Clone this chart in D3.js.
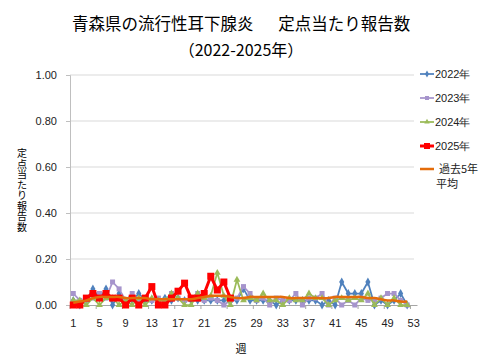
<!DOCTYPE html>
<html><head><meta charset="utf-8">
<script src="https://cdn.jsdelivr.net/npm/d3@7"></script>
<style>body{margin:0;background:#fff}svg{display:block}</style>
</head><body><svg id="c" width="480" height="360"></svg>
<script>
const weeks = d3.range(1, 54);
const tickWeeks = [1,5,9,13,17,21,25,29,33,37,41,45,49,53];
const yTicks = [0, 0.2, 0.4, 0.6, 0.8, 1.0];
const v2022 = [0.02,0,0.02,0.07,0.03,0.07,0,0.05,0.01,0.02,0.05,0.02,0.02,0.02,0.03,0.02,0.03,0.02,0.02,0.02,0.02,0.02,0.02,0.02,0.02,0.02,0.07,0.02,0.02,0.02,0.02,0,0.02,0.02,0.02,0.02,0.02,0.02,0,0.02,0,0.10,0.05,0.05,0.05,0.10,0,0.02,0,0.02,0.05,0];
const v2023 = [0.05,0.02,0.02,0.03,0.05,0.03,0.10,0.07,0.02,0.05,0.02,0.03,0.02,0.03,0.02,0.05,0.03,0.02,0.03,0.05,0.02,0.03,0.02,0,0.02,0.03,0.08,0.05,0.02,0.03,0,0.03,0.02,0.02,0.05,0,0.03,0.03,0.05,0,0.03,0,0.02,0,0.03,0.02,0.02,0.03,0.05,0.05,0.02,0];
const v2024 = [0.02,0.02,0,0.03,0,0.03,0.03,0,0.02,0,0.03,0,0.03,0.02,0.02,0.05,0.03,0,0,0.05,0.03,0.04,0.14,0.04,0,0.11,0.02,0.03,0.02,0.05,0.02,0.02,0,0.03,0.02,0.02,0.05,0.03,0.03,0,0.02,0.03,0.02,0.03,0.02,0.05,0,0.03,0,0.03,0,0];
const v2025 = [0,0,0.03,0.05,0.03,0.05,0.03,0.03,0,0.03,0,0.03,0.08,0,0,0.03,0.06,0.095,0.03,0.03,0.05,0.125,0.065,0.10,0.03];
const vAvg = [0.01,0.015,0.02,0.03,0.035,0.035,0.035,0.035,0.03,0.03,0.03,0.03,0.025,0.025,0.025,0.025,0.025,0.025,0.025,0.03,0.035,0.04,0.04,0.04,0.035,0.03,0.03,0.035,0.035,0.035,0.035,0.035,0.035,0.03,0.03,0.03,0.03,0.03,0.03,0.03,0.035,0.035,0.035,0.035,0.035,0.03,0.03,0.025,0.02,0.02,0.015,0.015];
const seriesNames = ["2022年","2023年","2024年","2025年","過去5年平均"];
const seriesColors = ["#4F81BD","#A694CC","#9BBB59","#FF0000","#E46C0A"];

const svg = d3.select("#c");
const x = d3.scaleBand().domain(weeks).range([70, 417]);
const y = d3.scaleLinear().domain([0, 1]).range([305, 75]);
const cx = w => x(w) + x.bandwidth() / 2;
const latin = "'Liberation Sans', Arial, sans-serif";
const cjk = "'Noto Sans CJK JP', sans-serif";

// title
svg.append("text").attr("x", 241).attr("y", 30).attr("text-anchor", "middle")
  .attr("font-family", cjk).attr("font-size", 16.5).attr("fill", "#000")
  .text("青森県の流行性耳下腺炎\u3000\u2002定点当たり報告数");
svg.append("text").attr("x", 241).attr("y", 56).attr("text-anchor", "middle")
  .attr("font-family", cjk).attr("font-size", 16).attr("fill", "#000")
  .text("（2022-2025年）");

// grid
svg.append("g").selectAll("line").data(yTicks.filter(t => t > 0)).join("line")
  .attr("x1", 70).attr("x2", 414).attr("y1", d => y(d)).attr("y2", d => y(d))
  .attr("stroke", "#D9D9D9").attr("stroke-width", 1);

// y axis
const ya = svg.append("g").attr("transform", "translate(70,0)")
  .call(d3.axisLeft(y).tickValues(yTicks).tickFormat(d3.format(".2f")).tickSize(4).tickPadding(9));
ya.select(".domain").attr("stroke", "#BFBFBF");
ya.selectAll(".tick line").attr("stroke", "#BFBFBF");
ya.selectAll("text").attr("font-family", latin).attr("font-size", 11).attr("fill", "#222");

// x axis
const xa = svg.append("g").attr("transform", "translate(0,305)")
  .call(d3.axisBottom(x).tickValues(tickWeeks).tickSize(0).tickPadding(14));
xa.select(".domain").attr("stroke", "#A6A6A6");
xa.selectAll("text").attr("font-family", latin).attr("font-size", 11).attr("fill", "#222");
svg.append("g").selectAll("line").data(tickWeeks).join("line")
  .attr("x1", d => x(d)).attr("x2", d => x(d)).attr("y1", 305).attr("y2", 309)
  .attr("stroke", "#A6A6A6");

svg.append("text").attr("x", 241).attr("y", 353).attr("text-anchor", "middle")
  .attr("font-family", cjk).attr("font-size", 11).text("週");

// vertical y-axis title: text rotated 90deg, each glyph rotated back upright
svg.append("text").attr("transform", "translate(17,157) rotate(90)")
  .attr("x", 0).attr("y", 0).attr("rotate", "-90")
  .attr("font-family", cjk).attr("font-size", 10).attr("fill", "#000")
  .style("letter-spacing", "0.5px")
  .text("定点当たり報告数");

// series
const plot = svg.append("g");
const lineGen = d3.line().x(d => cx(d.w)).y(d => y(d.v));
const toPts = arr => arr.map((v, i) => ({ w: i + 1, v }));

function marker(g, type, px, py, color, s) {
  if (type === "diamond") {
    g.append("path").attr("d", d3.symbol(d3.symbolDiamond, s * s * 0.9)()).attr("transform", `translate(${px},${py})`).attr("fill", color);
  } else if (type === "square") {
    g.append("rect").attr("x", px - s / 2).attr("y", py - s / 2).attr("width", s).attr("height", s).attr("fill", color);
  } else if (type === "triangle") {
    g.append("path").attr("d", d3.symbol(d3.symbolTriangle, s * s * 0.8)()).attr("transform", `translate(${px},${py})`).attr("fill", color);
  }
}

const defs = [
  { data: v2022, color: seriesColors[0], w: 1.75, mk: "diamond", ms: 5 },
  { data: v2023, color: seriesColors[1], w: 1.75, mk: "square", ms: 5 },
  { data: v2024, color: seriesColors[2], w: 1.75, mk: "triangle", ms: 5 },
  { data: v2025, color: seriesColors[3], w: 3, mk: "square", ms: 7 }
];
defs.forEach(s => {
  const pts = toPts(s.data);
  const g = plot.append("g");
  g.append("path").attr("d", lineGen(pts)).attr("fill", "none").attr("stroke", s.color).attr("stroke-width", s.w).attr("stroke-linejoin", "round");
  pts.forEach(p => marker(g, s.mk, cx(p.w), y(p.v), s.color, s.ms));
});
plot.append("path").attr("d", d3.line().x(d => cx(d.w)).y(d => y(d.v)).curve(d3.curveCatmullRom)(toPts(vAvg)))
  .attr("fill", "none").attr("stroke", seriesColors[4]).attr("stroke-width", 2.5);

// legend
const legY = [74, 98, 122, 146, 169];
const lg = svg.append("g");
defs.forEach((s, i) => {
  lg.append("line").attr("x1", 420).attr("x2", 434).attr("y1", legY[i]).attr("y2", legY[i]).attr("stroke", s.color).attr("stroke-width", s.w);
  marker(lg, s.mk, 427, legY[i], s.color, s.ms - 1);
  lg.append("text").attr("x", 435).attr("y", legY[i] + 4).attr("font-family", latin).attr("font-size", 11).attr("fill", "#222").text(seriesNames[i]);
});
lg.append("line").attr("x1", 420).attr("x2", 434).attr("y1", legY[4]).attr("y2", legY[4]).attr("stroke", seriesColors[4]).attr("stroke-width", 2.5);
lg.append("text").attr("x", 439).attr("y", legY[4] + 4).attr("font-family", cjk).attr("font-size", 11).attr("fill", "#222").text("過去5年");
lg.append("text").attr("x", 436).attr("y", legY[4] + 19).attr("font-family", cjk).attr("font-size", 11).attr("fill", "#222").text("平均");
</script></body></html>
